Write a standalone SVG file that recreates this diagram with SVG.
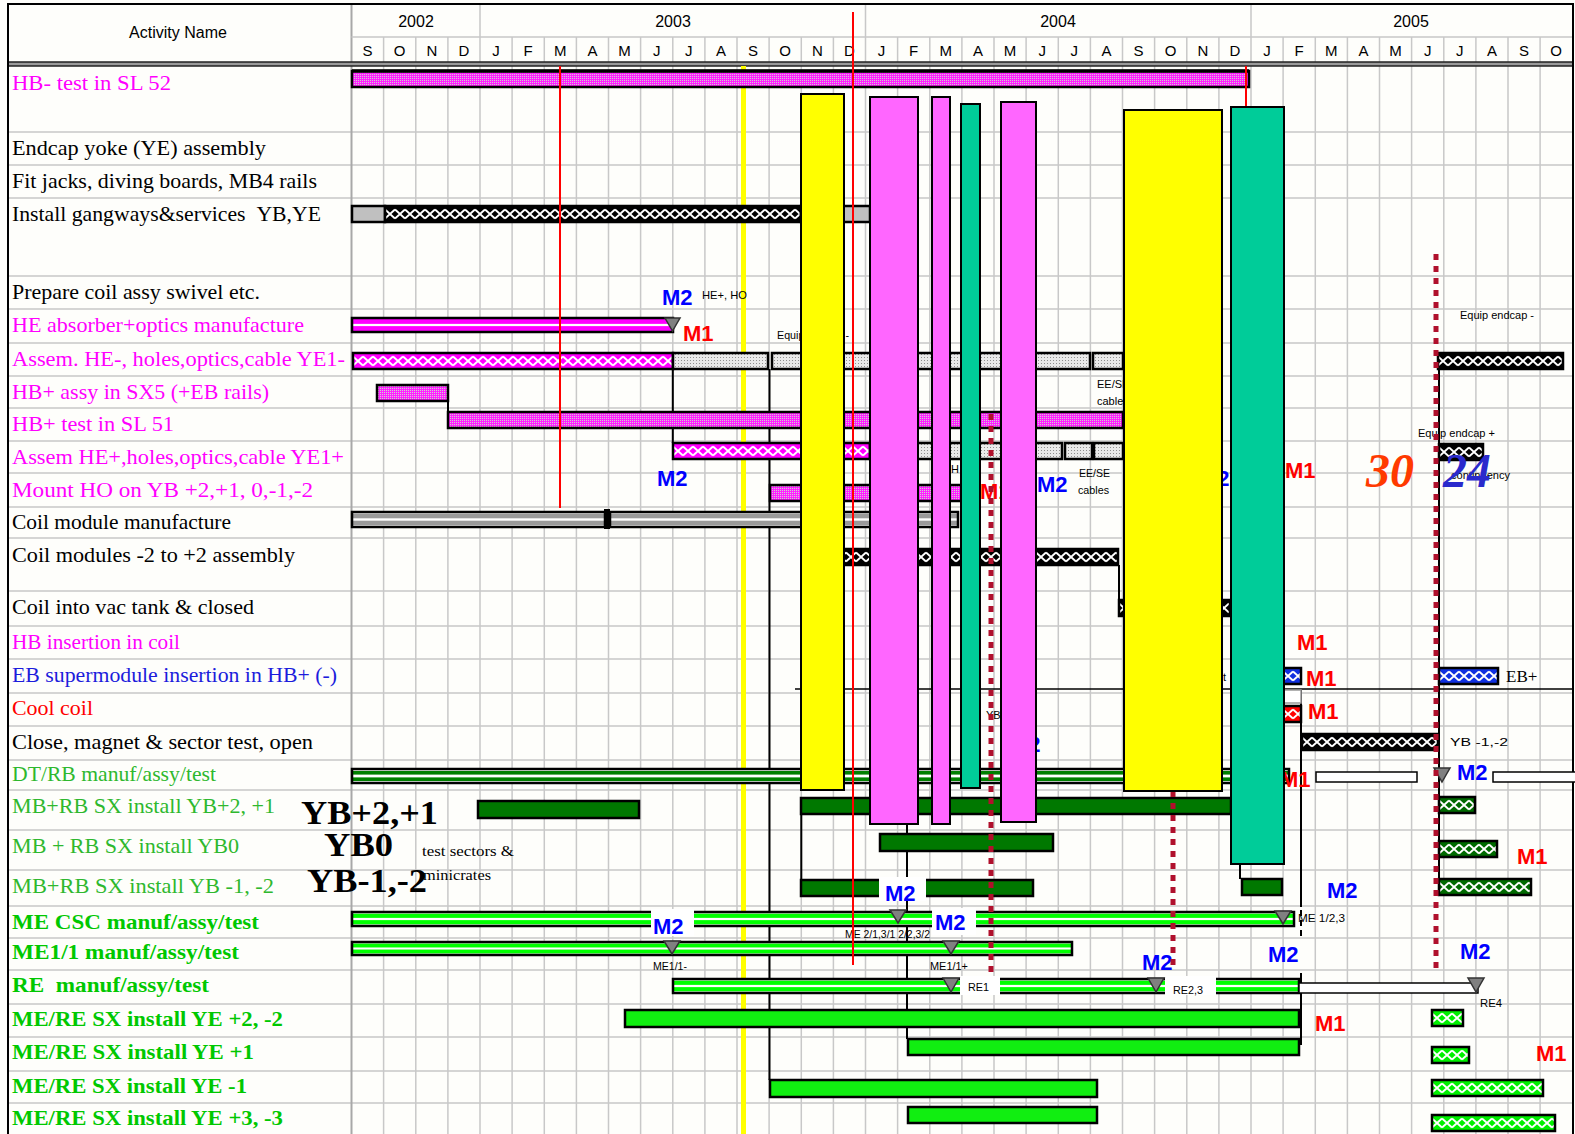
<svg xmlns="http://www.w3.org/2000/svg" width="1575" height="1134" viewBox="0 0 1575 1134">
<defs>
<style>
.lb{font-family:"Liberation Serif","Times New Roman",serif;font-size:21px}
.k{fill:#000}.m{fill:#FF00FF}.b{fill:#1C1CDC}.r{fill:#FF0000}.g{fill:#2EB82E}.gb{fill:#00C800;font-weight:bold}
.hd{font-family:"Liberation Sans",Arial,sans-serif;font-size:16px;fill:#000;text-anchor:middle}
.mo{font-family:"Liberation Sans",Arial,sans-serif;font-size:15px;fill:#000;text-anchor:middle}
.grid{stroke:#C8C8C8;stroke-width:1.5;fill:none}
.bar{stroke:#000;stroke-width:2.5}
.ov{stroke:#000;stroke-width:2}
.ms{fill:#808080;stroke:#333;stroke-width:1.5}
.M1{font-family:"Liberation Sans",Arial,sans-serif;font-size:22px;font-weight:bold;fill:#FF0000}
.M2{font-family:"Liberation Sans",Arial,sans-serif;font-size:22px;font-weight:bold;fill:#0000FF}
.sm{font-family:"Liberation Sans",Arial,sans-serif;font-size:11px;fill:#000}
.cn{stroke:#000;stroke-width:2;fill:none}
.dot{stroke:#B0102C;stroke-width:5;stroke-dasharray:6 6;fill:none}
.big{font-family:"Liberation Serif","Times New Roman",serif;font-weight:bold;font-size:34px;fill:#000}
.wb{fill:#fff}
</style>
<pattern id="pdM" width="2" height="2" patternUnits="userSpaceOnUse"><rect width="2" height="2" fill="#FF20FF"/><rect width="1" height="1" fill="#D0D0D0"/></pattern>
<pattern id="pdG" width="3" height="3" patternUnits="userSpaceOnUse"><rect width="3" height="3" fill="#EAEAEA"/><rect width="1" height="1" fill="#909090"/></pattern>
<pattern id="zzM" width="10" height="16" patternUnits="userSpaceOnUse"><rect width="10" height="16" fill="#FF00FF"/><path d="M0 3.5L10 12.5M0 12.5L10 3.5" stroke="#fff" stroke-width="2"/></pattern>
<pattern id="zzK" width="10" height="16" patternUnits="userSpaceOnUse"><rect width="10" height="16" fill="#000"/><path d="M0 3.5L10 12.5M0 12.5L10 3.5" stroke="#fff" stroke-width="2"/></pattern>
<pattern id="zzB" width="10" height="16" patternUnits="userSpaceOnUse"><rect width="10" height="16" fill="#1030E0"/><path d="M0 3.5L10 12.5M0 12.5L10 3.5" stroke="#fff" stroke-width="2"/></pattern>
<pattern id="zzR" width="10" height="16" patternUnits="userSpaceOnUse"><rect width="10" height="16" fill="#FF0000"/><path d="M0 3.5L10 12.5M0 12.5L10 3.5" stroke="#fff" stroke-width="2"/></pattern>
<pattern id="zzD" width="10" height="16" patternUnits="userSpaceOnUse"><rect width="10" height="16" fill="#006A00"/><path d="M0 3.5L10 12.5M0 12.5L10 3.5" stroke="#fff" stroke-width="2"/></pattern>
<pattern id="zzG" width="10" height="16" patternUnits="userSpaceOnUse"><rect width="10" height="16" fill="#00F000"/><path d="M0 3.5L10 12.5M0 12.5L10 3.5" stroke="#fff" stroke-width="2"/></pattern>
<pattern id="stM" width="1" height="1" patternContentUnits="objectBoundingBox"><rect width="1" height="1" fill="#FF00FF"/><rect y="0.42" width="1" height="0.16" fill="#fff"/></pattern>
<pattern id="stG" width="1" height="1" patternContentUnits="objectBoundingBox"><rect width="1" height="1" fill="#fff"/><rect y="0.12" width="1" height="0.3" fill="#00FF00"/><rect y="0.58" width="1" height="0.3" fill="#00FF00"/></pattern>
<pattern id="stD" width="1" height="1" patternContentUnits="objectBoundingBox"><rect width="1" height="1" fill="#fff"/><rect y="0.14" width="1" height="0.26" fill="#008000"/><rect y="0.6" width="1" height="0.26" fill="#008000"/></pattern>
<pattern id="stK" width="1" height="1" patternContentUnits="objectBoundingBox"><rect width="1" height="1" fill="#fff"/><rect y="0.12" width="1" height="0.3" fill="#9A9A9A"/><rect y="0.58" width="1" height="0.3" fill="#9A9A9A"/></pattern>
</defs>
<rect width="1575" height="1134" fill="#FEFEFB"/>

<g id="grid">
<path class="grid" d="M383.6 66V1134M415.8 66V1134M447.9 66V1134M480 66V1134M512.1 66V1134M544.3 66V1134M576.4 66V1134M608.5 66V1134M640.6 66V1134M672.8 66V1134M704.9 66V1134M737 66V1134M769.1 66V1134M801.3 66V1134M833.4 66V1134M865.5 66V1134M897.6 66V1134M929.8 66V1134M961.9 66V1134M994 66V1134M1026.1 66V1134M1058.3 66V1134M1090.4 66V1134M1122.5 66V1134M1154.6 66V1134M1186.8 66V1134M1218.9 66V1134M1251 66V1134M1283.1 66V1134M1315.3 66V1134M1347.4 66V1134M1379.5 66V1134M1411.6 66V1134M1443.8 66V1134M1475.9 66V1134M1508 66V1134M1540.1 66V1134"/>
<path class="grid" d="M8 132H1573M8 165H1573M8 198H1573M8 276H1573M8 309H1573M8 343H1573M8 376H1573M8 408H1573M8 441H1573M8 473H1573M8 507H1573M8 538H1573M8 591H1573M8 626H1573M8 659H1573M8 693H1573M8 726H1573M8 760H1573M8 790H1573M8 830H1573M8 870H1573M8 906H1573M8 938H1573M8 970H1573M8 1004H1573M8 1037H1573M8 1071H1573M8 1103H1573"/>
<path d="M351.5 4V1134" stroke="#A8A8A8" stroke-width="2"/>
</g>

<g id="header">
<path class="grid" d="M351.5 37H1573M383.6 37V62M415.8 37V62M447.9 37V62M512.1 37V62M544.3 37V62M576.4 37V62M608.5 37V62M640.6 37V62M672.8 37V62M704.9 37V62M737 37V62M769.1 37V62M801.3 37V62M833.4 37V62M897.6 37V62M929.8 37V62M961.9 37V62M994 37V62M1026.1 37V62M1058.3 37V62M1090.4 37V62M1122.5 37V62M1154.6 37V62M1186.8 37V62M1218.9 37V62M1283.1 37V62M1315.3 37V62M1347.4 37V62M1379.5 37V62M1411.6 37V62M1443.8 37V62M1475.9 37V62M1508 37V62M1540.1 37V62M480 4V62M865.5 4V62M1251 4V62"/>
<rect x="8" y="62" width="1565" height="4" fill="#9A9A9A"/>
<path d="M8 62H1573M8 66H1573" stroke="#222" stroke-width="1.5"/>
<text class="hd" x="178" y="38">Activity Name</text>
<text class="hd" x="416" y="27">2002</text>
<text class="hd" x="673" y="27">2003</text>
<text class="hd" x="1058" y="27">2004</text>
<text class="hd" x="1411" y="27">2005</text>
<g class="mo">
<text x="367.6" y="56">S</text><text x="399.7" y="56">O</text><text x="431.8" y="56">N</text><text x="464" y="56">D</text>
<text x="496.1" y="56">J</text><text x="528.2" y="56">F</text><text x="560.3" y="56">M</text><text x="592.5" y="56">A</text><text x="624.6" y="56">M</text><text x="656.7" y="56">J</text><text x="688.8" y="56">J</text><text x="721" y="56">A</text><text x="753.1" y="56">S</text><text x="785.2" y="56">O</text><text x="817.3" y="56">N</text><text x="849.5" y="56">D</text>
<text x="881.6" y="56">J</text><text x="913.7" y="56">F</text><text x="945.8" y="56">M</text><text x="978" y="56">A</text><text x="1010.1" y="56">M</text><text x="1042.2" y="56">J</text><text x="1074.3" y="56">J</text><text x="1106.5" y="56">A</text><text x="1138.6" y="56">S</text><text x="1170.7" y="56">O</text><text x="1202.8" y="56">N</text><text x="1235" y="56">D</text>
<text x="1267.1" y="56">J</text><text x="1299.2" y="56">F</text><text x="1331.3" y="56">M</text><text x="1363.5" y="56">A</text><text x="1395.6" y="56">M</text><text x="1427.7" y="56">J</text><text x="1459.8" y="56">J</text><text x="1492" y="56">A</text><text x="1524.1" y="56">S</text><text x="1556.2" y="56">O</text>
</g>
<rect x="8" y="4" width="1565" height="1135" fill="none" stroke="#000" stroke-width="2"/>
</g>

<rect id="yellow-line" x="741" y="66" width="5" height="1068" fill="#FFFF00"/>

<g id="labels">
<text class="lb m" x="12" y="90" textLength="159" lengthAdjust="spacingAndGlyphs">HB- test in SL 52</text>
<text class="lb k" x="12" y="155" textLength="254" lengthAdjust="spacingAndGlyphs">Endcap yoke (YE) assembly</text>
<text class="lb k" x="12" y="188" textLength="305" lengthAdjust="spacingAndGlyphs">Fit jacks, diving boards, MB4 rails</text>
<text class="lb k" x="12" y="221" textLength="309" lengthAdjust="spacingAndGlyphs">Install gangways&amp;services &#160;YB,YE</text>
<text class="lb k" x="12" y="299" textLength="248" lengthAdjust="spacingAndGlyphs">Prepare coil assy swivel etc.</text>
<text class="lb m" x="12" y="332" textLength="292" lengthAdjust="spacingAndGlyphs">HE absorber+optics manufacture</text>
<text class="lb m" x="12" y="366" textLength="333" lengthAdjust="spacingAndGlyphs">Assem. HE-, holes,optics,cable YE1-</text>
<text class="lb m" x="12" y="399" textLength="257" lengthAdjust="spacingAndGlyphs">HB+ assy in SX5 (+EB rails)</text>
<text class="lb m" x="12" y="431" textLength="162" lengthAdjust="spacingAndGlyphs">HB+ test in SL 51</text>
<text class="lb m" x="12" y="464" textLength="332" lengthAdjust="spacingAndGlyphs">Assem HE+,holes,optics,cable YE1+</text>
<text class="lb m" x="12" y="497" textLength="301" lengthAdjust="spacingAndGlyphs">Mount HO on YB +2,+1, 0,-1,-2</text>
<text class="lb k" x="12" y="529" textLength="219" lengthAdjust="spacingAndGlyphs">Coil module manufacture</text>
<text class="lb k" x="12" y="562" textLength="283" lengthAdjust="spacingAndGlyphs">Coil modules -2 to +2 assembly</text>
<text class="lb k" x="12" y="614" textLength="242" lengthAdjust="spacingAndGlyphs">Coil into vac tank &amp; closed</text>
<text class="lb m" x="12" y="649" textLength="168" lengthAdjust="spacingAndGlyphs">HB insertion in coil</text>
<text class="lb b" x="12" y="682" textLength="325" lengthAdjust="spacingAndGlyphs">EB supermodule insertion in HB+ (-)</text>
<text class="lb r" x="12" y="715" textLength="81" lengthAdjust="spacingAndGlyphs">Cool coil</text>
<text class="lb k" x="12" y="749" textLength="301" lengthAdjust="spacingAndGlyphs">Close, magnet &amp; sector test, open</text>
<text class="lb g" x="12" y="781" textLength="204" lengthAdjust="spacingAndGlyphs">DT/RB manuf/assy/test</text>
<text class="lb g" x="12" y="813" textLength="263" lengthAdjust="spacingAndGlyphs">MB+RB SX install YB+2, +1</text>
<text class="lb g" x="12" y="853" textLength="227" lengthAdjust="spacingAndGlyphs">MB + RB SX install YB0</text>
<text class="lb g" x="12" y="893" textLength="262" lengthAdjust="spacingAndGlyphs">MB+RB SX install YB -1, -2</text>
<text class="lb gb" x="12" y="929" textLength="247" lengthAdjust="spacingAndGlyphs">ME CSC manuf/assy/test</text>
<text class="lb gb" x="12" y="959" textLength="227" lengthAdjust="spacingAndGlyphs">ME1/1 manuf/assy/test</text>
<text class="lb gb" x="12" y="992" textLength="197" lengthAdjust="spacingAndGlyphs">RE &#160;manuf/assy/test</text>
<text class="lb gb" x="12" y="1026" textLength="271" lengthAdjust="spacingAndGlyphs">ME/RE SX install YE +2, -2</text>
<text class="lb gb" x="12" y="1059" textLength="242" lengthAdjust="spacingAndGlyphs">ME/RE SX install YE +1</text>
<text class="lb gb" x="12" y="1093" textLength="235" lengthAdjust="spacingAndGlyphs">ME/RE SX install YE -1</text>
<text class="lb gb" x="12" y="1125" textLength="271" lengthAdjust="spacingAndGlyphs">ME/RE SX install YE +3, -3</text>
</g>

<g id="connectors">
<path class="cn" d="M448 401V412M672.8 369V443M769.5 369V1080M801.3 814V880M907 814V1039M1119 565V600M1240 864V879M1301 690V907M1301 973V1045M1439 370V895"/>
<path d="M1301 910V937" stroke="#000" stroke-width="2" stroke-dasharray="6 4"/>
<path d="M795 689H1573" stroke="#000" stroke-width="1.5"/>
</g>

<g id="bars">
<rect class="bar" x="352" y="71" width="897" height="16" fill="url(#pdM)"/>
<path d="M352 71H1249" stroke="#000" stroke-width="3.5"/>
<rect class="bar" x="352" y="206" width="33" height="16" fill="#C0C0C0"/>
<rect class="bar" width="416" height="16" fill="url(#zzK)" transform="translate(385 206)"/>
<rect class="bar" x="801" y="206" width="69" height="16" fill="#C0C0C0"/>
<rect class="bar" x="352" y="318" width="321" height="14" fill="url(#stM)"/>
<rect class="bar" width="320" height="16" fill="url(#zzM)" transform="translate(353 353)"/>
<rect class="bar" x="673" y="353" width="95" height="16" fill="url(#pdG)"/>
<rect class="bar" x="772" y="353" width="318" height="16" fill="url(#pdG)"/>
<rect class="bar" x="1093" y="353" width="30" height="16" fill="url(#pdG)"/>
<rect class="bar" width="125" height="16" fill="url(#zzK)" transform="translate(1438 353)"/>
<rect class="bar" x="377" y="385" width="71" height="16" fill="url(#pdM)"/>
<rect class="bar" x="448" y="412" width="675" height="16" fill="url(#pdM)"/>
<rect class="bar" width="197" height="16" fill="url(#zzM)" transform="translate(673 443)"/>
<rect class="bar" x="870" y="443" width="192" height="16" fill="url(#pdG)"/>
<rect class="bar" x="1065" y="443" width="27" height="16" fill="url(#pdG)"/>
<rect class="bar" x="1094" y="443" width="29" height="16" fill="url(#pdG)"/>
<rect class="bar" width="44" height="16" fill="url(#zzK)" transform="translate(1439 444)"/>
<rect class="bar" x="770" y="485" width="192" height="16" fill="url(#pdM)"/>
<rect class="bar" x="352" y="512" width="253" height="15" fill="url(#stK)"/>
<rect class="bar" x="610" y="512" width="348" height="15" fill="url(#stK)"/>
<rect x="604" y="509" width="6" height="20" fill="#000"/>
<rect class="bar" width="312" height="16" fill="url(#zzK)" transform="translate(806 549)"/>
<rect class="bar" width="111" height="16" fill="url(#zzK)" transform="translate(1119 600)"/>
<rect class="bar" width="18" height="16" fill="url(#zzB)" transform="translate(1283 668)"/>
<rect class="bar" width="59" height="16" fill="url(#zzB)" transform="translate(1439 668)"/>
<rect x="1283" y="690" width="18" height="13" fill="#fff" stroke="#999" stroke-width="1.5"/>
<rect class="bar" width="18" height="16" fill="url(#zzR)" transform="translate(1283 706)"/>
<rect class="bar" width="136" height="16" fill="url(#zzK)" transform="translate(1302 734)"/>
<rect class="bar" x="352" y="769" width="937" height="14" fill="url(#stD)"/>
<rect x="1316" y="772" width="101" height="10" fill="#fff" stroke="#000" stroke-width="1.5"/>
<rect x="1493" y="772" width="85" height="10" fill="#fff" stroke="#000" stroke-width="1.5"/>
<rect class="bar" x="478" y="801" width="161" height="17" fill="#007800"/>
<rect class="bar" x="801" y="798" width="430" height="16" fill="#007800"/>
<rect class="bar" width="36" height="16" fill="url(#zzD)" transform="translate(1439 797)"/>
<rect class="bar" x="880" y="834" width="173" height="17" fill="#007800"/>
<rect class="bar" width="58" height="16" fill="url(#zzD)" transform="translate(1439 841)"/>
<rect class="bar" x="801" y="880" width="232" height="16" fill="#007800"/>
<rect class="bar" x="1242" y="879" width="40" height="16" fill="#007800"/>
<rect class="bar" width="92" height="16" fill="url(#zzD)" transform="translate(1439 879)"/>
<rect class="bar" x="352" y="912" width="942" height="14" fill="url(#stG)"/>
<rect class="bar" x="352" y="942" width="720" height="13" fill="url(#stG)"/>
<rect class="bar" x="673" y="979" width="626" height="14" fill="url(#stG)"/>
<rect x="1299" y="983" width="179" height="10" fill="#fff" stroke="#000" stroke-width="1.5"/>
<rect class="bar" x="625" y="1010" width="674" height="17" fill="#11EE11"/>
<rect class="bar" width="31" height="16" fill="url(#zzG)" transform="translate(1432 1010)"/>
<rect class="bar" x="908" y="1039" width="391" height="16" fill="#11EE11"/>
<rect class="bar" width="37" height="16" fill="url(#zzG)" transform="translate(1432 1047)"/>
<rect class="bar" x="770" y="1080" width="327" height="17" fill="#11EE11"/>
<rect class="bar" width="111" height="16" fill="url(#zzG)" transform="translate(1432 1080)"/>
<rect class="bar" x="908" y="1107" width="189" height="16" fill="#11EE11"/>
<rect class="bar" width="123" height="16" fill="url(#zzG)" transform="translate(1432 1115)"/>
</g>

<g id="label-boxes">
<rect class="wb" x="651" y="909" width="43" height="27"/>
<rect class="wb" x="932" y="908" width="44" height="27"/>
<rect class="wb" x="879" y="877" width="47" height="24"/>
<rect class="wb" x="960" y="976" width="40" height="19"/>
<rect class="wb" x="1165" y="976" width="51" height="19"/>
</g>

<g id="milestones">
<path class="ms" d="M665 318H680L672.5 331Z"/>
<path class="ms" d="M890 910H906L898 923Z"/>
<path class="ms" d="M1275 911H1291L1283 924Z"/>
<path class="ms" d="M664 941H680L672 954Z"/>
<path class="ms" d="M943 941H959L951 954Z"/>
<path class="ms" d="M943 978H959L951 992Z"/>
<path class="ms" d="M1148 978H1164L1156 992Z"/>
<path class="ms" d="M1468 978H1484L1476 992Z"/>
<path class="ms" d="M1434 768H1450L1442 782Z"/>
</g>

<g id="notes">
<text class="M2" x="662" y="305">M2</text>
<text class="sm" x="702" y="299" font-size="12" textLength="45" lengthAdjust="spacingAndGlyphs">HE+, HO</text>
<text class="M1" x="683" y="341">M1</text>
<text class="sm" x="777" y="339" font-size="12" textLength="72" lengthAdjust="spacingAndGlyphs">Equip endcap -</text>
<text class="sm" x="1097" y="388" font-size="12">EE/SE</text>
<text class="sm" x="1097" y="405" font-size="12">cables</text>
<text class="sm" x="951" y="473" font-size="12">H</text>
<text class="M2" x="657" y="486">M2</text>
<text class="M1" x="980" y="499">M1</text>
<text class="M2" x="1037" y="492">M2</text>
<text class="sm" x="1079" y="477" font-size="12" textLength="31" lengthAdjust="spacingAndGlyphs">EE/SE</text>
<text class="sm" x="1078" y="494" font-size="12" textLength="31" lengthAdjust="spacingAndGlyphs">cables</text>
<text class="M2" x="1199" y="486">M2</text>
<text class="M1" x="1285" y="478">M1</text>
<text class="sm" x="1460" y="319" font-size="12" textLength="74" lengthAdjust="spacingAndGlyphs">Equip endcap -</text>
<text class="sm" x="1418" y="437" font-size="12" textLength="77" lengthAdjust="spacingAndGlyphs">Equip endcap +</text>
<text class="sm" x="1451" y="479" font-size="12" textLength="59" lengthAdjust="spacingAndGlyphs">contingency</text>
<text x="1366" y="487" font-family="Liberation Serif,serif" font-style="italic" font-weight="bold" font-size="48" fill="#FF3A00">30</text>
<text x="1443" y="487" font-family="Liberation Serif,serif" font-style="italic" font-weight="bold" font-size="48" fill="#2A2ACC">24</text>
<text class="M1" x="1297" y="650">M1</text>
<text class="sm" x="1223" y="681" font-size="14">t</text>
<text class="M1" x="1306" y="686">M1</text>
<text x="1506" y="682" font-family="Liberation Serif,serif" font-size="17" fill="#000">EB+</text>
<text class="sm" x="986" y="719" font-size="15">YB +1,+2</text>
<text class="M1" x="1308" y="719">M1</text>
<text class="M2" x="1010" y="752">M2</text>
<text class="sm" x="1450" y="746" font-size="15" textLength="58" lengthAdjust="spacingAndGlyphs">YB -1,-2</text>
<text class="M1" x="1280" y="787">M1</text>
<text class="M2" x="1457" y="780">M2</text>
<text class="big" x="301" y="824" textLength="137" lengthAdjust="spacingAndGlyphs">YB+2,+1</text>
<text class="big" x="324" y="856" textLength="69" lengthAdjust="spacingAndGlyphs">YB0</text>
<text class="big" x="307" y="892" textLength="120" lengthAdjust="spacingAndGlyphs">YB-1,-2</text>
<text x="422" y="856" font-family="Liberation Serif,serif" font-size="15" fill="#000" textLength="92" lengthAdjust="spacingAndGlyphs">test sectors &amp;</text>
<text x="423" y="880" font-family="Liberation Serif,serif" font-size="15" fill="#000" textLength="68" lengthAdjust="spacingAndGlyphs">minicrates</text>
<text class="M1" x="1517" y="864">M1</text>
<text class="M2" x="885" y="901">M2</text>
<text class="M2" x="1327" y="898">M2</text>
<text class="M2" x="653" y="934">M2</text>
<text class="M2" x="935" y="930">M2</text>
<text class="sm" x="845" y="938" textLength="85" lengthAdjust="spacingAndGlyphs">ME 2/1,3/1 2/2,3/2</text>
<text class="sm" x="1298" y="922" textLength="47" lengthAdjust="spacingAndGlyphs">ME 1/2,3</text>
<text class="sm" x="653" y="970" textLength="34" lengthAdjust="spacingAndGlyphs">ME1/1-</text>
<text class="sm" x="930" y="970" textLength="38" lengthAdjust="spacingAndGlyphs">ME1/1+</text>
<text class="M2" x="1142" y="970">M2</text>
<text class="M2" x="1268" y="962">M2</text>
<text class="M2" x="1460" y="959">M2</text>
<text class="sm" x="968" y="991" textLength="21" lengthAdjust="spacingAndGlyphs">RE1</text>
<text class="sm" x="1173" y="994" textLength="30" lengthAdjust="spacingAndGlyphs">RE2,3</text>
<text class="sm" x="1480" y="1007" textLength="22" lengthAdjust="spacingAndGlyphs">RE4</text>
<text class="M1" x="1315" y="1031">M1</text>
<text class="M1" x="1536" y="1061">M1</text>
</g>

<g id="markers">
<path d="M560 66V508M853 12V965M1246 66V108" stroke="#FF0000" stroke-width="2"/>
<path class="dot" d="M991 414V972M1173 791V968M1436 254V968"/>
</g>

<g id="overlays">
<rect id="yellow1" class="ov" x="801" y="94" width="43" height="696" fill="#FFFF00"/>
<rect id="magenta1" class="ov" x="870" y="97" width="48" height="727" fill="#FF66FF"/>
<rect id="magenta2" class="ov" x="932" y="97" width="18" height="727" fill="#FF66FF"/>
<rect id="teal1" class="ov" x="961" y="104" width="19" height="684" fill="#00CC99"/>
<rect id="magenta3" class="ov" x="1001" y="102" width="35" height="720" fill="#FF66FF"/>
<rect id="yellow2" class="ov" x="1124" y="110" width="98" height="681" fill="#FFFF00"/>
<rect id="teal2" class="ov" x="1231" y="107" width="53" height="757" fill="#00CC99"/>
</g>
</svg>
